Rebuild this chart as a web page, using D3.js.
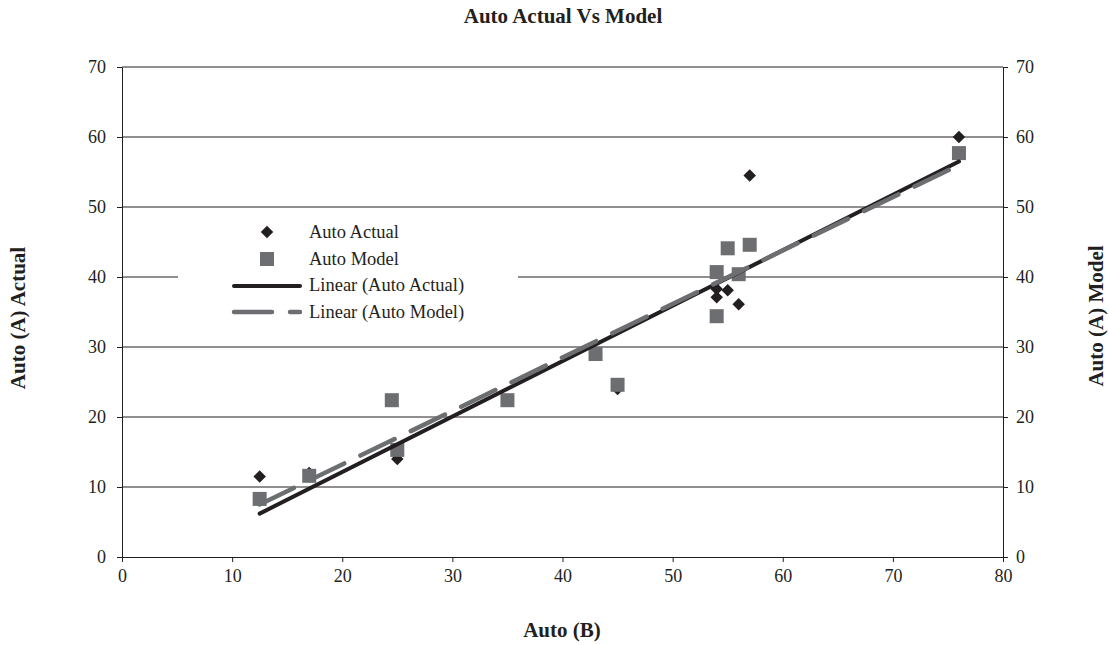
<!DOCTYPE html>
<html>
<head>
<meta charset="utf-8">
<script src="https://cdn.jsdelivr.net/npm/d3@7"></script>
<style>
  body { margin: 0; background: #fff; }
  text { font-family: "Liberation Serif", "Times New Roman", serif; fill: #231f20; }
</style>
</head>
<body>
<div id="chart"></div>
<script>
// values
var actualX = [12.5, 17, 25, 45, 54, 54, 55, 56, 57, 76];
var actualY = [11.5, 12, 14, 24, 38.3, 37.1, 38.1, 36.1, 54.5, 60];
var modelX = [12.5, 17, 24.5, 25, 35, 43, 45, 54, 54, 55, 56, 57, 76];
var modelY = [8.3, 11.6, 22.4, 15.3, 22.4, 29, 24.6, 40.7, 34.4, 44.1, 40.4, 44.6, 57.7];
// trend lines, end points
var trendX = [12.5, 76];
var trendActual = [6.2, 56.5];
var trendModel = [7.5, 56.0];
var xTicks = [0, 10, 20, 30, 40, 50, 60, 70, 80];
var yTicks = [0, 10, 20, 30, 40, 50, 60, 70];

var width = 1109, height = 645;
var margin = { top: 67, right: 106, bottom: 88, left: 122 };
var w = width - margin.left - margin.right;
var h = height - margin.top - margin.bottom;
var ink = "#231f20", gray = "#6d6e71";

var svg = d3.select("#chart").append("svg")
  .attr("width", width)
  .attr("height", height);

var g = svg.append("g")
  .attr("transform", "translate(" + margin.left + "," + margin.top + ")");

var x = d3.scaleLinear().domain([0, 80]).range([0, w]);
var y = d3.scaleLinear().domain([0, 70]).range([h, 0]);

// gridlines
g.append("g").selectAll("line")
  .data(yTicks.filter(function(d) { return d > 0; }))
  .enter().append("line")
  .attr("x1", 0).attr("x2", w)
  .attr("y1", function(d) { return y(d); })
  .attr("y2", function(d) { return y(d); })
  .attr("stroke", ink).attr("stroke-width", 1);

// axes
function styleAxis(sel) {
  sel.selectAll("path").attr("stroke", ink);
  sel.selectAll("line").attr("stroke", ink);
  sel.selectAll("text")
    .style("font-family", "Liberation Serif, serif")
    .style("font-size", "18px")
    .attr("fill", ink);
}
g.append("g")
  .attr("transform", "translate(0," + h + ")")
  .call(d3.axisBottom(x).tickValues(xTicks).tickSize(5).tickSizeOuter(0).tickPadding(7))
  .call(styleAxis);
g.append("g")
  .call(d3.axisLeft(y).tickValues(yTicks).tickSize(5).tickSizeOuter(0).tickPadding(11))
  .call(styleAxis);
g.append("g")
  .attr("transform", "translate(" + w + ",0)")
  .call(d3.axisRight(y).tickValues(yTicks).tickSize(5).tickSizeOuter(0).tickPadding(8))
  .call(styleAxis);

var diamond = d3.symbol().type(d3.symbolDiamond2).size(100);

// actual points
g.append("g").selectAll("path")
  .data(actualX.map(function(d, i) { return [d, actualY[i]]; }))
  .enter().append("path")
  .attr("d", diamond)
  .attr("transform", function(d) { return "translate(" + x(d[0]) + "," + y(d[1]) + ")"; })
  .attr("fill", ink);

// model points
g.append("g").selectAll("rect")
  .data(modelX.map(function(d, i) { return [d, modelY[i]]; }))
  .enter().append("rect")
  .attr("x", function(d) { return x(d[0]) - 7; })
  .attr("y", function(d) { return y(d[1]) - 7; })
  .attr("width", 14).attr("height", 14)
  .attr("fill", gray);

// trend lines
var line = d3.line()
  .x(function(d) { return x(d[0]); })
  .y(function(d) { return y(d[1]); });

g.append("path")
  .datum(trendX.map(function(d, i) { return [d, trendActual[i]]; }))
  .attr("d", line)
  .attr("fill", "none").attr("stroke", ink)
  .attr("stroke-width", 4).attr("stroke-linecap", "round");

g.append("path")
  .datum(trendX.map(function(d, i) { return [d, trendModel[i]]; }))
  .attr("d", line)
  .attr("fill", "none").attr("stroke", gray)
  .attr("stroke-width", 4.5).attr("stroke-linecap", "round")
  .attr("stroke-dasharray", "38,18");

// legend
var legend = svg.append("g").attr("transform", "translate(178,217)");
legend.append("rect")
  .attr("width", 340).attr("height", 106)
  .attr("fill", "#fff");
var lx = 54, tx = 131;
legend.append("path")
  .attr("d", diamond)
  .attr("transform", "translate(" + (lx + 35) + ",15)")
  .attr("fill", ink);
legend.append("rect")
  .attr("x", lx + 28).attr("y", 35).attr("width", 14).attr("height", 14)
  .attr("fill", gray);
legend.append("line")
  .attr("x1", lx + 2).attr("x2", lx + 68).attr("y1", 69).attr("y2", 69)
  .attr("stroke", ink).attr("stroke-width", 4).attr("stroke-linecap", "round");
legend.append("line")
  .attr("x1", lx + 2).attr("x2", lx + 68).attr("y1", 95).attr("y2", 95)
  .attr("stroke", gray).attr("stroke-width", 4.5).attr("stroke-linecap", "round")
  .attr("stroke-dasharray", "38,18");
var legendText = ["Auto Actual", "Auto Model", "Linear (Auto Actual)", "Linear (Auto Model)"];
legend.selectAll("text.item")
  .data(legendText)
  .enter().append("text")
  .attr("class", "item")
  .attr("x", tx)
  .attr("y", function(d, i) { return 21 + i * 26.5; })
  .style("font-size", "18.5px")
  .text(function(d) { return d; });

// titles
svg.append("text")
  .attr("x", 563).attr("y", 23)
  .attr("text-anchor", "middle")
  .style("font-size", "21px").style("font-weight", "bold")
  .text("Auto Actual Vs Model");

svg.append("text")
  .attr("x", 562).attr("y", 637)
  .attr("text-anchor", "middle")
  .style("font-size", "21px").style("font-weight", "bold")
  .text("Auto (B)");

svg.append("text")
  .attr("transform", "translate(25,318) rotate(-90)")
  .attr("text-anchor", "middle")
  .style("font-size", "21px").style("font-weight", "bold")
  .text("Auto (A) Actual");

svg.append("text")
  .attr("transform", "translate(1103,316) rotate(-90)")
  .attr("text-anchor", "middle")
  .style("font-size", "21px").style("font-weight", "bold")
  .text("Auto (A) Model");
</script>
</body>
</html>
